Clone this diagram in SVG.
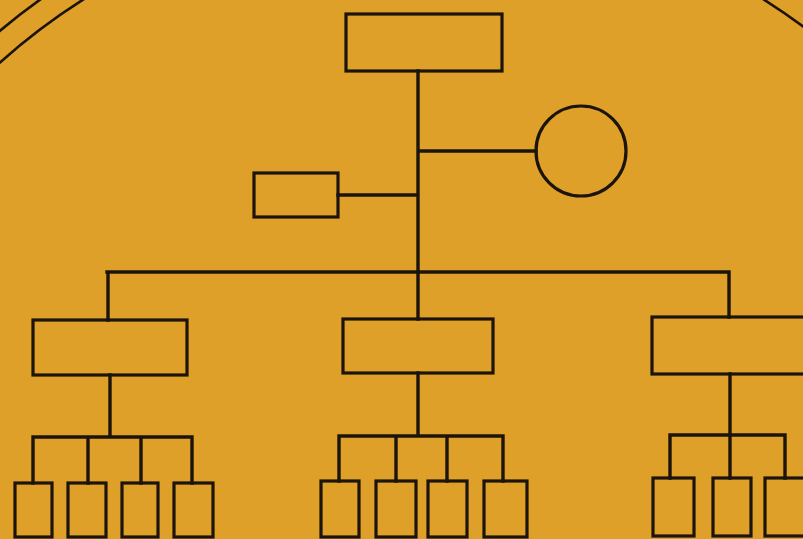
<svg xmlns="http://www.w3.org/2000/svg" width="803" height="539" viewBox="0 0 803 539">
<style>
.n{fill:none;stroke:#1c140a;stroke-width:3.2}
.c{fill:none;stroke:#1c140a;stroke-width:3.4;stroke-linecap:square}
.a{fill:none;stroke:#1c140a;stroke-width:2.6}
</style>
<rect x="0" y="0" width="803" height="539" fill="#DFA029"/>
<g id="frame">
<circle class="a" cx="423.5" cy="537" r="636"/>
<circle class="a" cx="423.5" cy="537" r="660"/>
</g>
<g id="connectors">
<path class="c" d="M418 71V272M418 151H536M338 195H418M107 272H729M108 272V320M418 272V319M729 272V317"/>
<path class="c" d="M110 375V437M33 437H192M33 437V483M88 437V483M141 437V483M192 437V483"/>
<path class="c" d="M418 373V436M339 436H503M339 436V481M396 436V481M447 436V481M503 436V481"/>
<path class="c" d="M730 374V435M670 435H785M670 435V478M730 435V478M785 435V478"/>
</g>
<g id="top"><rect class="n" x="346" y="14" width="156" height="57"/></g>
<g id="circle"><circle class="n" cx="581" cy="151" r="45"/></g>
<g id="staff"><rect class="n" x="254" y="173" width="84" height="44"/></g>
<g id="dept1"><rect class="n" x="33" y="320" width="154" height="55"/></g>
<g id="dept2"><rect class="n" x="343" y="319" width="150" height="54"/></g>
<g id="dept3"><rect class="n" x="652" y="317" width="160" height="57"/></g>
<g id="u1a"><rect class="n" x="15" y="483" width="37" height="54"/></g>
<g id="u1b"><rect class="n" x="68" y="483" width="38" height="54"/></g>
<g id="u1c"><rect class="n" x="122" y="483" width="36" height="54"/></g>
<g id="u1d"><rect class="n" x="174" y="483" width="39" height="54"/></g>
<g id="u2a"><rect class="n" x="321" y="481" width="38" height="56"/></g>
<g id="u2b"><rect class="n" x="376" y="481" width="40" height="56"/></g>
<g id="u2c"><rect class="n" x="428" y="481" width="39" height="56"/></g>
<g id="u2d"><rect class="n" x="484" y="481" width="43" height="56"/></g>
<g id="u3a"><rect class="n" x="653" y="478" width="41" height="58"/></g>
<g id="u3b"><rect class="n" x="713" y="478" width="38" height="58"/></g>
<g id="u3c"><rect class="n" x="765" y="478" width="40" height="58"/></g>
</svg>
